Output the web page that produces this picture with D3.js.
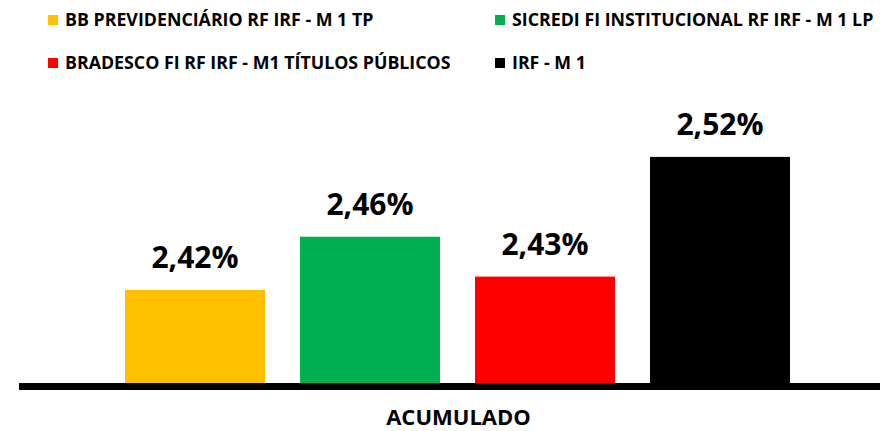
<!DOCTYPE html>
<html>
<head>
<meta charset="utf-8">
<script src="https://cdn.jsdelivr.net/npm/d3@7"></script>
<style>
  html, body { margin: 0; padding: 0; background: #fff; }
  svg { display: block; font-family: "Open Sans", "Noto Sans", sans-serif; font-weight: bold; }
</style>
</head>
<body>
<div id="chart"><svg></svg></div>
<script>
// data
var series = ["BB PREVIDENCIÁRIO RF IRF - M 1 TP",
              "SICREDI FI INSTITUCIONAL RF IRF - M 1 LP",
              "BRADESCO FI RF IRF - M1 TÍTULOS PÚBLICOS",
              "IRF - M 1"];
var values = [2.42, 2.46, 2.43, 2.52];
var colors = ["#ffc000", "#00b050", "#ff0000", "#000000"];
var category = "ACUMULADO";

var width = 880, height = 431;
var svg = d3.select("#chart svg")
    .attr("width", width)
    .attr("height", height);

var baseY = 383;

// scales
var x = d3.scaleBand()
    .domain(series)
    .range([90, 825])
    .paddingInner(0.2)
    .paddingOuter(0.2);

var y = d3.scaleLinear()
    .domain([2.35, 2.55])
    .range([baseY, baseY - 266]);

var fmt = function (v) { return v.toFixed(2).replace(".", ",") + "%"; };

// bars
svg.append("g").selectAll("rect")
    .data(values)
    .enter()
    .append("rect")
    .attr("x", function (d, i) { return x(series[i]); })
    .attr("y", function (d) { return y(d); })
    .attr("width", x.bandwidth())
    .attr("height", function (d) { return baseY - y(d); })
    .attr("fill", function (d, i) { return colors[i]; });

// value labels
svg.append("g").selectAll("text")
    .data(values)
    .enter()
    .append("text")
    .attr("x", function (d, i) { return x(series[i]) + x.bandwidth() / 2; })
    .attr("y", function (d) { return y(d) - 22; })
    .attr("text-anchor", "middle")
    .attr("font-size", 30)
    .attr("fill", "#000")
    .text(fmt);

// baseline axis
svg.append("line")
    .attr("x1", 19)
    .attr("x2", 880)
    .attr("y1", baseY + 3.5)
    .attr("y2", baseY + 3.5)
    .attr("stroke", "#000")
    .attr("stroke-width", 7);

// category label
svg.append("text")
    .attr("x", (x.range()[0] + x.range()[1]) / 2 + 1)
    .attr("y", 425)
    .attr("text-anchor", "middle")
    .attr("font-size", 22)
    .attr("fill", "#000")
    .text(category);

// legend, two columns
var legendPos = [[48, 20], [495, 20], [48, 63], [495, 63]];
var legend = svg.append("g").selectAll("g")
    .data(series)
    .enter()
    .append("g")
    .attr("transform", function (d, i) { return "translate(" + legendPos[i][0] + "," + legendPos[i][1] + ")"; });

legend.append("rect")
    .attr("x", 0)
    .attr("y", -5)
    .attr("width", 10)
    .attr("height", 10)
    .attr("fill", function (d, i) { return colors[i]; });

legend.append("text")
    .attr("x", 17)
    .attr("y", 0)
    .attr("dy", "0.36em")
    .attr("font-size", 17.8)
    .attr("fill", "#000")
    .text(function (d) { return d; });
</script>
</body>
</html>
